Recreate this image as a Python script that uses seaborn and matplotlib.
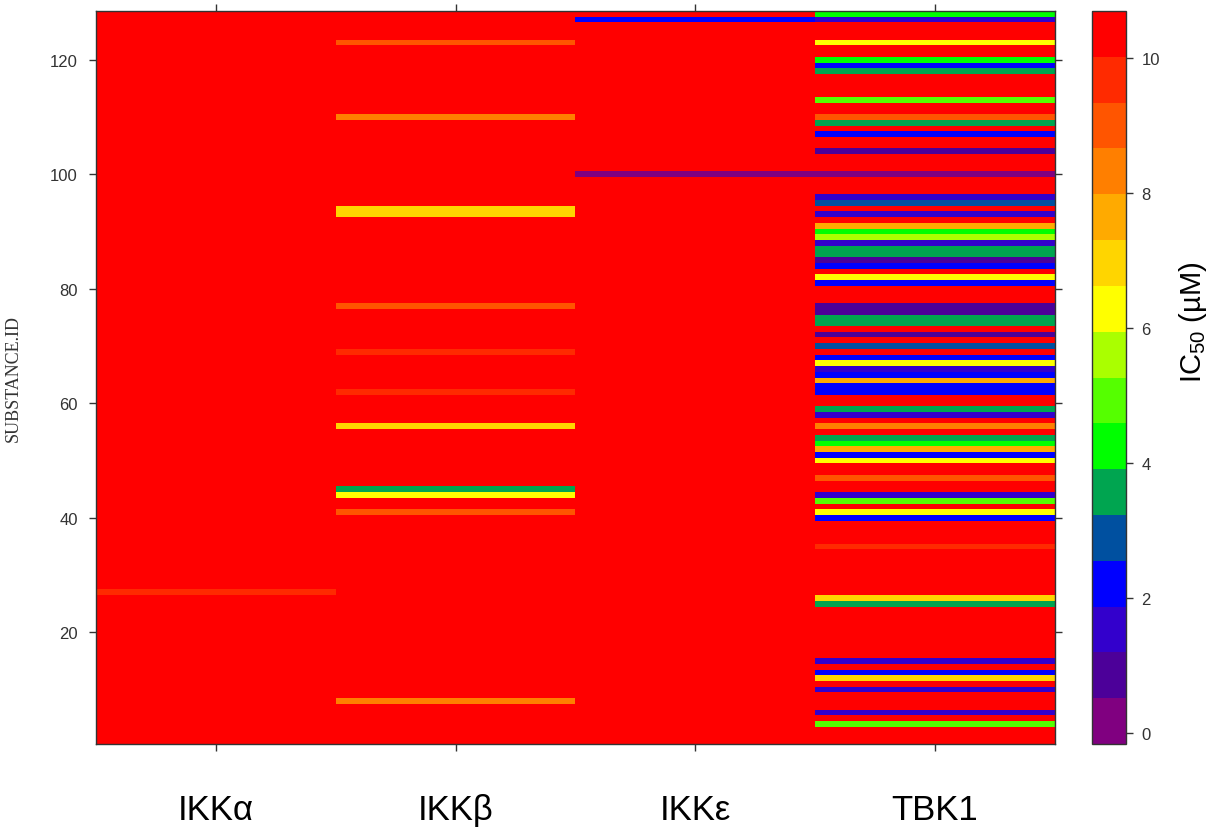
import numpy as np
import pandas as pd
import matplotlib
matplotlib.use("Agg")
import matplotlib.pyplot as plt
from matplotlib.colors import ListedColormap, BoundaryNorm
import seaborn as sns

kinases = ["IKKα", "IKKβ", "IKKε", "TBK1"]
substance_ids = list(range(1, 129))

# IC50 (uM) per substance, ids 1..128 (16 per line); 10.5 = inactive (>10 uM)
ikka = [10.5, 10.5, 10.5, 10.5, 10.5, 10.5, 10.5, 10.5, 10.5, 10.5, 10.5, 10.5, 10.5, 10.5, 10.5, 10.5,
        10.5, 10.5, 10.5, 10.5, 10.5, 10.5, 10.5, 10.5, 10.5, 10.5, 9.6, 10.5, 10.5, 10.5, 10.5, 10.5,
        10.5, 10.5, 10.5, 10.5, 10.5, 10.5, 10.5, 10.5, 10.5, 10.5, 10.5, 10.5, 10.5, 10.5, 10.5, 10.5,
        10.5, 10.5, 10.5, 10.5, 10.5, 10.5, 10.5, 10.5, 10.5, 10.5, 10.5, 10.5, 10.5, 10.5, 10.5, 10.5,
        10.5, 10.5, 10.5, 10.5, 10.5, 10.5, 10.5, 10.5, 10.5, 10.5, 10.5, 10.5, 10.5, 10.5, 10.5, 10.5,
        10.5, 10.5, 10.5, 10.5, 10.5, 10.5, 10.5, 10.5, 10.5, 10.5, 10.5, 10.5, 10.5, 10.5, 10.5, 10.5,
        10.5, 10.5, 10.5, 10.5, 10.5, 10.5, 10.5, 10.5, 10.5, 10.5, 10.5, 10.5, 10.5, 10.5, 10.5, 10.5,
        10.5, 10.5, 10.5, 10.5, 10.5, 10.5, 10.5, 10.5, 10.5, 10.5, 10.5, 10.5, 10.5, 10.5, 10.5, 10.5]

ikkb = [10.5, 10.5, 10.5, 10.5, 10.5, 10.5, 10.5, 8.3, 10.5, 10.5, 10.5, 10.5, 10.5, 10.5, 10.5, 10.5,
        10.5, 10.5, 10.5, 10.5, 10.5, 10.5, 10.5, 10.5, 10.5, 10.5, 10.5, 10.5, 10.5, 10.5, 10.5, 10.5,
        10.5, 10.5, 10.5, 10.5, 10.5, 10.5, 10.5, 10.5, 9.0, 10.5, 10.5, 6.3, 3.6, 10.5, 10.5, 10.5,
        10.5, 10.5, 10.5, 10.5, 10.5, 10.5, 10.5, 6.9, 10.5, 10.5, 10.5, 10.5, 10.5, 9.6, 10.5, 10.5,
        10.5, 10.5, 10.5, 10.5, 9.6, 10.5, 10.5, 10.5, 10.5, 10.5, 10.5, 10.5, 9.0, 10.5, 10.5, 10.5,
        10.5, 10.5, 10.5, 10.5, 10.5, 10.5, 10.5, 10.5, 10.5, 10.5, 10.5, 10.5, 6.9, 6.9, 10.5, 10.5,
        10.5, 10.5, 10.5, 10.5, 10.5, 10.5, 10.5, 10.5, 10.5, 10.5, 10.5, 10.5, 10.5, 8.3, 10.5, 10.5,
        10.5, 10.5, 10.5, 10.5, 10.5, 10.5, 10.5, 10.5, 10.5, 10.5, 9.0, 10.5, 10.5, 10.5, 10.5, 10.5]

ikke = [10.5, 10.5, 10.5, 10.5, 10.5, 10.5, 10.5, 10.5, 10.5, 10.5, 10.5, 10.5, 10.5, 10.5, 10.5, 10.5,
        10.5, 10.5, 10.5, 10.5, 10.5, 10.5, 10.5, 10.5, 10.5, 10.5, 10.5, 10.5, 10.5, 10.5, 10.5, 10.5,
        10.5, 10.5, 10.5, 10.5, 10.5, 10.5, 10.5, 10.5, 10.5, 10.5, 10.5, 10.5, 10.5, 10.5, 10.5, 10.5,
        10.5, 10.5, 10.5, 10.5, 10.5, 10.5, 10.5, 10.5, 10.5, 10.5, 10.5, 10.5, 10.5, 10.5, 10.5, 10.5,
        10.5, 10.5, 10.5, 10.5, 10.5, 10.5, 10.5, 10.5, 10.5, 10.5, 10.5, 10.5, 10.5, 10.5, 10.5, 10.5,
        10.5, 10.5, 10.5, 10.5, 10.5, 10.5, 10.5, 10.5, 10.5, 10.5, 10.5, 10.5, 10.5, 10.5, 10.5, 10.5,
        10.5, 10.5, 10.5, 0.2, 10.5, 10.5, 10.5, 10.5, 10.5, 10.5, 10.5, 10.5, 10.5, 10.5, 10.5, 10.5,
        10.5, 10.5, 10.5, 10.5, 10.5, 10.5, 10.5, 10.5, 10.5, 10.5, 10.5, 10.5, 10.5, 10.5, 2.2, 10.5]

tbk1 = [10.5, 10.5, 10.5, 4.9, 10.5, 1.5, 10.5, 10.5, 10.5, 1.5, 10.5, 6.9, 2.2, 10.5, 1.5, 10.5,
        10.5, 10.5, 10.5, 10.5, 10.5, 10.5, 10.5, 10.5, 3.6, 6.9, 10.5, 10.5, 10.5, 10.5, 10.5, 10.5,
        10.5, 10.5, 9.6, 10.5, 10.5, 10.5, 10.5, 2.2, 6.3, 10.5, 4.9, 1.5, 10.5, 10.5, 9.0, 10.5,
        10.5, 6.3, 2.2, 7.6, 4.2, 3.6, 10.5, 8.3, 10.5, 1.5, 3.6, 10.5, 10.5, 2.2, 2.2, 7.6,
        2.2, 1.5, 6.3, 2.2, 10.5, 2.9, 10.5, 0.9, 10.5, 3.6, 3.6, 0.9, 0.9, 10.5, 10.5, 10.5,
        2.2, 6.3, 10.5, 2.2, 0.9, 3.6, 3.6, 1.5, 5.6, 4.2, 7.6, 10.5, 1.5, 10.5, 2.9, 1.5,
        10.5, 10.5, 10.5, 0.2, 10.5, 10.5, 10.5, 0.9, 10.5, 10.5, 2.2, 10.5, 3.6, 9.0, 10.5, 10.5,
        4.9, 10.5, 10.5, 10.5, 10.5, 3.6, 2.2, 4.2, 10.5, 10.5, 6.3, 10.5, 10.5, 10.5, 1.5, 4.2]

# 16-step rainbow key, low (purple) to high (red)
level_colors = ["#800080", "#4c0099", "#3300cc", "#0000ff", "#0050a0", "#00a550",
                "#00ff00", "#55ff00", "#aaff00", "#ffff00", "#ffd500", "#ffaa00",
                "#ff7f00", "#ff5500", "#ff2a00", "#ff0000"]
bounds = np.linspace(-0.17, 10.7, 17)
cmap = ListedColormap(level_colors)
norm = BoundaryNorm(bounds, cmap.N)

df = pd.DataFrame({"IKKα": ikka, "IKKβ": ikkb, "IKKε": ikke, "TBK1": tbk1}, index=substance_ids)
df = df.iloc[::-1]  # highest id on top

plt.rcParams["mathtext.fontset"] = "custom"
plt.rcParams["mathtext.rm"] = "Liberation Sans"

fig = plt.figure(figsize=(12.13, 8.28), dpi=100)
ax = fig.add_axes([0.0791, 0.1002, 0.7906, 0.8853])
cax = fig.add_axes([0.9003, 0.1002, 0.0280, 0.8853])

sns.heatmap(df, ax=ax, cbar_ax=cax, cmap=cmap, norm=norm,
            xticklabels=False, yticklabels=False)

tick_color = "#333333"
y_vals = list(range(20, 121, 20))
ax.set_yticks([len(substance_ids) + 0.5 - v for v in y_vals])
ax.set_yticklabels([str(v) for v in y_vals], rotation=0, fontsize=12,
                   family="Liberation Sans", color=tick_color)
ax.set_xticks(np.arange(len(kinases)) + 0.5)
ax.set_xticklabels(kinases, fontsize=25, family="Liberation Sans", color="black")
ax.tick_params(axis="y", direction="out", length=5, width=1, color=tick_color,
               right=True, pad=8)
ax.tick_params(axis="x", direction="out", length=5, width=1, color=tick_color,
               top=True, pad=30)
for s in ax.spines.values():
    s.set_visible(True)
    s.set_color(tick_color)
    s.set_linewidth(1)
ax.set_xlabel("")
ax.set_ylabel("SUBSTANCE.ID", family="Liberation Serif", fontsize=13,
              color=tick_color, labelpad=20)

cbar = ax.collections[0].colorbar
cbar.set_ticks([0, 2, 4, 6, 8, 10])
cbar.ax.minorticks_off()
cbar.ax.tick_params(direction="out", length=5, width=1, color=tick_color,
                    labelsize=12, labelcolor=tick_color, pad=6)
for lab in cbar.ax.get_yticklabels():
    lab.set_family("Liberation Sans")
cbar.outline.set_linewidth(1)
cbar.outline.set_edgecolor(tick_color)
cbar.set_label("IC$_{\\mathrm{50}}$ (µM)", fontsize=21, family="Liberation Sans")
cbar.ax.yaxis.set_label_coords(2.5, 0.577)

fig.savefig("out.png", dpi=100)
